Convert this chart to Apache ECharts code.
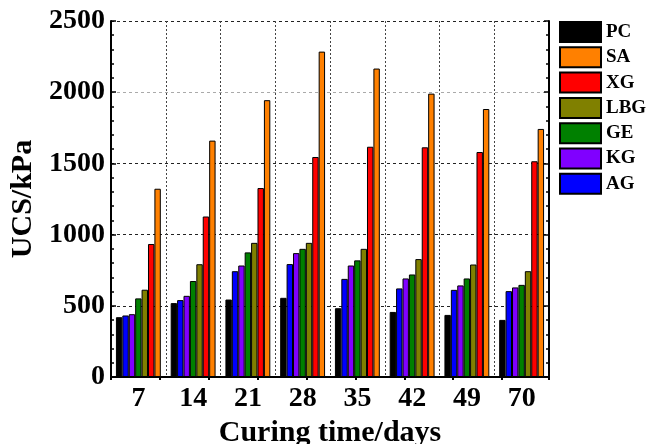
<!DOCTYPE html>
<html>
<head>
<meta charset="utf-8">
<script src="https://cdn.jsdelivr.net/npm/echarts@6/dist/echarts.min.js"></script>
<style>
  html, body { margin: 0; padding: 0; background: #fff; }
  #chart { width: 646px; height: 444px; }
</style>
</head>
<body>
<div id="chart"></div>
<script>
// 养护时间（天）
var days = ['7', '14', '21', '28', '35', '42', '49', '70'];

// 各组 UCS 数值 kPa
var PC = [420, 519, 544, 556, 483, 457, 436, 401];
var AG = [432, 540, 743, 793, 689, 622, 612, 603];
var KG = [441, 570, 783, 870, 783, 692, 643, 629];
var GE = [552, 674, 875, 900, 819, 720, 692, 647];
var LBG = [613, 792, 942, 942, 900, 828, 790, 743];
var XG = [934, 1127, 1327, 1545, 1617, 1613, 1580, 1515];
var SA = [1322, 1660, 1944, 2285, 2166, 1990, 1882, 1742];

var legend_order = ['PC', 'SA', 'XG', 'LBG', 'GE', 'KG', 'AG'];

var font = '"Liberation Serif", "Times New Roman", serif';

function bar(name, data, color) {
    return {
        name: name,
        type: 'bar',
        data: data,
        barGap: '0%',
        barCategoryGap: '18%',
        itemStyle: {
            color: color,
            borderColor: '#000',
            borderWidth: 1
        }
    };
}

var chart = echarts.init(document.getElementById('chart'));
var option = {
    animation: false,
    grid: {
        left: 111,
        right: 97,
        top: 21,
        bottom: 67,
        containLabel: false,
        outerBoundsMode: 'none'
    },
    legend: {
        data: legend_order,
        orient: 'vertical',
        left: 559,
        top: 21,
        padding: 0,
        itemWidth: 41,
        itemHeight: 20,
        itemGap: 3.3,
        icon: 'rect',
        textStyle: {
            fontFamily: font,
            fontWeight: 'bold',
            fontSize: 19,
            color: '#000'
        }
    },
    xAxis: [
        {
            type: 'category',
            data: days,
            position: 'bottom',
            axisLine: { lineStyle: { color: '#000', width: 2 } },
            axisTick: { inside: true, length: 4, lineStyle: { color: '#000', width: 1.5 } },
            axisLabel: {
                fontFamily: font,
                fontWeight: 'bold',
                fontSize: 28,
                color: '#000',
                margin: 8
            },
            splitLine: {
                show: true,
                interval: 0,
                lineStyle: { color: '#444', type: [2, 2], width: 1 }
            },
            name: 'Curing time/days',
            nameLocation: 'middle',
            nameGap: 37,
            nameTextStyle: {
                fontFamily: font,
                fontWeight: 'bold',
                fontSize: 30,
                color: '#000'
            }
        },
        {
            // 上边框刻度
            type: 'value',
            position: 'top',
            min: 0,
            max: 8.96,
            interval: 1,
            axisLine: { lineStyle: { color: '#000', width: 2 } },
            axisTick: { inside: true, length: 3, lineStyle: { color: '#000', width: 2 } },
            axisLabel: { show: false },
            splitLine: { show: false }
        }
    ],
    yAxis: [
        {
            type: 'value',
            min: 0,
            max: 2500,
            interval: 500,
            position: 'left',
            axisLine: { show: true, lineStyle: { color: '#000', width: 2 } },
            axisTick: { show: true, inside: true, length: 5, lineStyle: { color: '#000', width: 1.5 } },
            minorTick: { show: true, splitNumber: 5, length: 3, lineStyle: { color: '#000', width: 1.5 } },
            axisLabel: {
                fontFamily: font,
                fontWeight: 'bold',
                fontSize: 28,
                color: '#000',
                margin: 6,
                formatter: function (v) { return String(v); }
            },
            splitLine: {
                show: true,
                lineStyle: {
                    color: ['#222', '#222', '#222', '#222', '#aaa', '#222'],
                    type: [3, 3],
                    width: 1
                }
            },
            name: 'UCS/kPa',
            nameLocation: 'middle',
            nameGap: 71,
            nameTextStyle: {
                fontFamily: font,
                fontWeight: 'bold',
                fontSize: 30,
                color: '#000'
            }
        },
        {
            // 右边框刻度
            type: 'value',
            min: 0,
            max: 2500,
            interval: 500,
            position: 'right',
            axisLine: { show: true, lineStyle: { color: '#000', width: 2 } },
            axisTick: { show: true, inside: true, length: 5, lineStyle: { color: '#000', width: 1.5 } },
            minorTick: { show: true, splitNumber: 5, length: 3, lineStyle: { color: '#000', width: 1.5 } },
            axisLabel: { show: false },
            splitLine: { show: false }
        }
    ],
    series: [
        bar('PC', PC, '#000000'),
        bar('AG', AG, '#0000ff'),
        bar('KG', KG, '#8000ff'),
        bar('GE', GE, '#008000'),
        bar('LBG', LBG, '#808000'),
        bar('XG', XG, '#ff0000'),
        bar('SA', SA, '#ff8000')
    ]
};
chart.setOption(option);
</script>
</body>
</html>
